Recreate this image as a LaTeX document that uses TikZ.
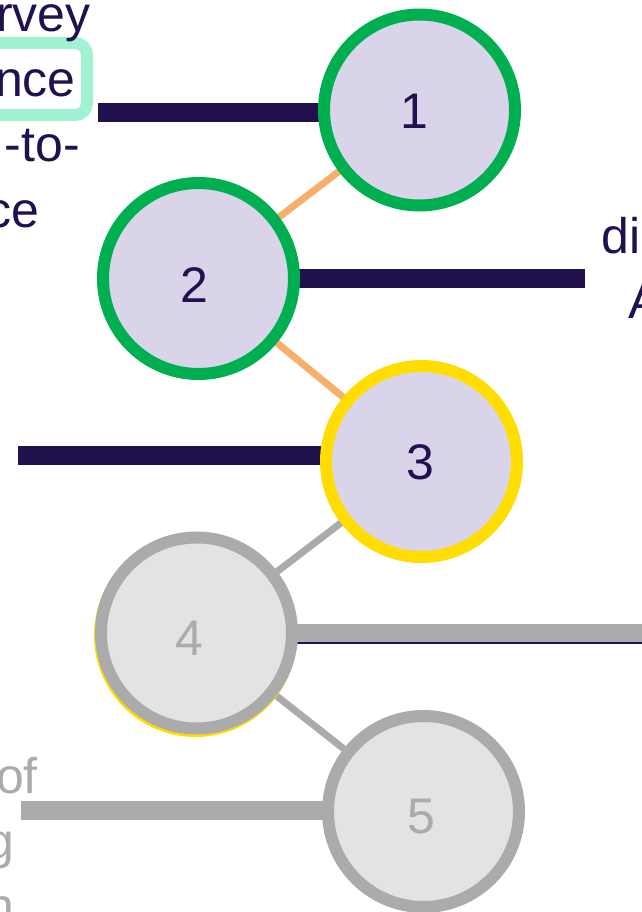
\documentclass[tikz,border=0pt]{standalone}
\usepackage{fontspec}
\setmainfont{Liberation Sans}
\usetikzlibrary{backgrounds}
\definecolor{navy}{RGB}{33,17,79}
\definecolor{lav}{RGB}{218,212,234}
\definecolor{donegreen}{RGB}{0,176,80}
\definecolor{nowyellow}{RGB}{255,221,0}
\definecolor{ringgray}{RGB}{171,171,171}
\definecolor{fillgray}{RGB}{227,227,227}
\definecolor{linkorange}{RGB}{246,176,108}
\definecolor{mint}{RGB}{160,242,210}
\begin{document}
\begin{tikzpicture}[x=1pt,y=-1pt,
  ring/.style={circle,minimum size=191pt,inner sep=0pt,line width=12pt},
  donering/.style={ring,draw=donegreen,fill=lav},
  nowring/.style={ring,draw=nowyellow,fill=lav},
  todoring/.style={ring,draw=ringgray,fill=fillgray},
  digit/.style={inner sep=0pt,font=\fontsize{50}{60}\selectfont},
  txt/.style={inner sep=0pt,anchor=base east,font=\fontsize{50}{65}\selectfont},
  txtl/.style={txt,anchor=base west},
  bar/.style={line width=19pt},
  link/.style={line width=7pt}]
\clip (0,0) rectangle (641,912);

% timeline stations
\node[donering] (c1) at (419.5,110) {};
\node[donering] (c2) at (198.5,278.5) {};
\node[nowring]  (c3) at (421.5,461.5) {};
\node[ring,draw=nowyellow] (c4y) at (195.5,635.5) {};
\node[todoring] (c4) at (196.5,633) {};
\node[todoring] (c5) at (423.5,811.5) {};

\node[digit,text=navy] (d1) at (414,111) {1};
\node[digit,text=navy] (d2) at (194,285) {2};
\node[digit,text=navy] (d3) at (420,462) {3};
\node[digit,text=ringgray] (d4) at (189.5,638) {4};
\node[digit,text=ringgray] (d5) at (421,817) {5};

% bar end points
\coordinate (b1) at (98,112.5);
\coordinate (b2) at (585,278);
\coordinate (b3) at (18,455.5);
\coordinate (b4) at (660,633);
\coordinate (b4n) at (660,635);
\coordinate (b5) at (21,810.5);

\begin{pgfonlayer}{background}
  \draw[bar,navy] (b1) -- (b1 -| c1);
  \draw[bar,navy] (b2) -- (b2 -| c2);
  \draw[bar,navy] (b3) -- (b3 -| c3);
  \draw[line width=18pt,navy] (b4n) -- (b4n -| c4);
  \draw[line width=18pt,ringgray] (b4) -- (b4 -| c4);
  \draw[bar,ringgray] (b5) -- (b5 -| c5);
  \draw[link,linkorange] (c1.center) -- (c2.center);
  \draw[link,linkorange] (c2.center) -- (c3.center);
  \draw[link,ringgray] (c3.center) -- (c4.center);
  \draw[link,ringgray] (c4.center) -- (c5.center);
\end{pgfonlayer}

% captions
\draw[mint,line width=12pt,rounded corners=12pt] (-40,43) rectangle (87,115);
\node[txt,text=navy] (t1) at (91,32) {rvey};
\node[txt,text=navy] (t2) at (76,97) {nce};
\node[txt,text=navy] (t3) at (80,162) {-to-};
\node[txt,text=navy] (t4) at (40,227) {ce};
\node[txtl,text=navy] (t5) at (601,253) {di};
\node[txtl,text=navy] (t6) at (628,318) {A};
\node[txt,text=ringgray] (t7) at (38,793) {of};
\node[txt,text=ringgray] (t8) at (15,858) {g};
\node[txt,text=ringgray] (t9) at (15,923) {n};
\end{tikzpicture}
\end{document}
